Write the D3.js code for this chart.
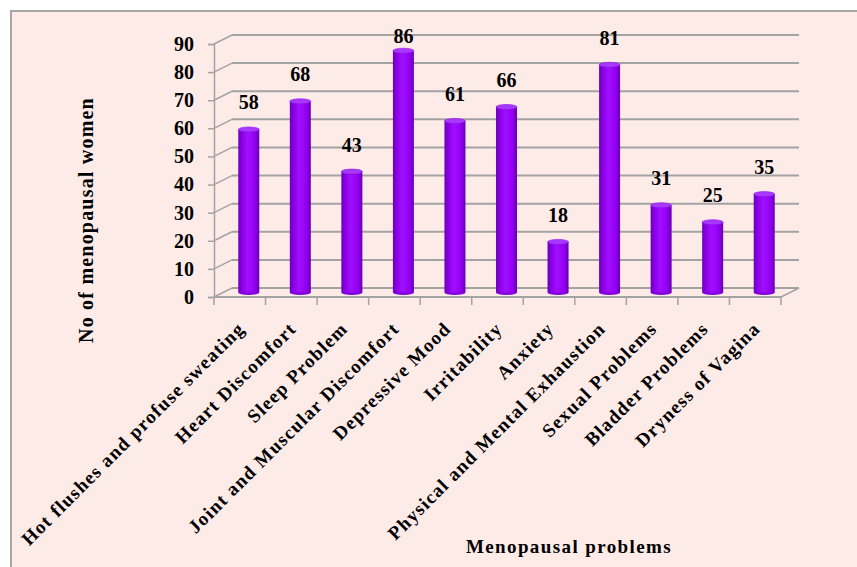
<!DOCTYPE html>
<html>
<head>
<meta charset="utf-8">
<script src="https://cdnjs.cloudflare.com/ajax/libs/d3/7.8.5/d3.min.js"></script>
<style>
  body { margin: 0; background: #ffffff; }
  text { font-family: "Liberation Serif", "Times New Roman", serif; font-weight: bold; }
</style>
</head>
<body>
<div id="chart"></div>
<script>
// Chart data
const categories = [
  "Hot flushes and profuse sweating", "Heart Discomfort", "Sleep Problem",
  "Joint and Muscular Discomfort", "Depressive Mood", "Irritability", "Anxiety",
  "Physical and Mental Exhaustion", "Sexual Problems", "Bladder Problems", "Dryness of Vagina"
];
const values = [58, 68, 43, 86, 61, 66, 18, 81, 31, 25, 35];
const yTicks = [0, 10, 20, 30, 40, 50, 60, 70, 80, 90];
const yTitle = "No of menopausal women";
const xTitle = "Menopausal problems";

const W = 857, H = 567;
// 3D depth offset of the back wall
const depthX = 18, depthY = -9;

const svg = d3.select("#chart").append("svg")
  .attr("width", W)
  .attr("height", H);

// Chart area background + frame
svg.append("rect")
  .attr("x", 11).attr("y", 11)
  .attr("width", W).attr("height", H)
  .attr("fill", "#fdebe8")
  .attr("stroke", "#a6a6a6")
  .attr("stroke-width", 2);

const x = d3.scaleBand().domain(categories).range([214, 781]).padding(0);
const y = d3.scaleLinear().domain([0, 90]).range([297, 44]);

// gradient for cylinders
const defs = svg.append("defs");
const grad = defs.append("linearGradient").attr("id", "cyl").attr("x1", "0%").attr("x2", "100%");
grad.append("stop").attr("offset", "0%").attr("stop-color", "#6c00b4");
grad.append("stop").attr("offset", "18%").attr("stop-color", "#8a00e6");
grad.append("stop").attr("offset", "45%").attr("stop-color", "#a010ff");
grad.append("stop").attr("offset", "75%").attr("stop-color", "#9600f8");
grad.append("stop").attr("offset", "100%").attr("stop-color", "#6a00b0");

const grid = svg.append("g");

// Back wall gridlines
grid.selectAll(".gl")
  .data(yTicks)
  .join("line")
  .attr("x1", 214 + depthX).attr("x2", 781 + depthX)
  .attr("y1", d => y(d) + depthY).attr("y2", d => y(d) + depthY)
  .attr("stroke", "#a3a3a3").attr("stroke-width", 2);

// Side wall diagonals
grid.selectAll(".sd")
  .data(yTicks)
  .join("line")
  .attr("x1", 214).attr("x2", 214 + depthX)
  .attr("y1", d => y(d)).attr("y2", d => y(d) + depthY)
  .attr("stroke", "#a3a3a3").attr("stroke-width", 1.5);

// Floor: front edge and right edge
grid.append("line")
  .attr("x1", 214).attr("x2", 781)
  .attr("y1", y(0)).attr("y2", y(0))
  .attr("stroke", "#a3a3a3").attr("stroke-width", 2);
grid.append("line")
  .attr("x1", 781).attr("x2", 781 + depthX)
  .attr("y1", y(0)).attr("y2", y(0) + depthY)
  .attr("stroke", "#a3a3a3").attr("stroke-width", 1.5);

// Y axis
const yAxis = svg.append("g")
  .attr("transform", "translate(214,0)")
  .call(d3.axisLeft(y).tickValues(yTicks).tickSize(6).tickPadding(14));
yAxis.select(".domain").attr("stroke", "#a3a3a3").attr("stroke-width", 1.5);
yAxis.selectAll(".tick line").attr("stroke", "#a3a3a3").attr("stroke-width", 1.5);
yAxis.selectAll(".tick text")
  .attr("fill", "#000")
  .style("font-family", '"Liberation Serif", serif')
  .style("font-weight", "bold")
  .style("font-size", "20px");

// X axis ticks (category boundaries)
const xAxis = svg.append("g")
  .attr("transform", `translate(0,${y(0)})`)
  .call(d3.axisBottom(x).tickSize(8).tickFormat(""));
xAxis.select(".domain").remove();
xAxis.selectAll(".tick line")
  .attr("transform", `translate(${x.bandwidth() / 2},0)`)
  .attr("stroke", "#a3a3a3").attr("stroke-width", 1.5);
xAxis.append("line")
  .attr("x1", 214).attr("x2", 214).attr("y1", 0).attr("y2", 8)
  .attr("stroke", "#a3a3a3").attr("stroke-width", 1.5);

// Bars as cylinders
const barW = 21, ry = 2.5;
const cx = d => x(d) + x.bandwidth() / 2 + depthX / 2;
const yb = v => y(v) + depthY / 2;

const bars = svg.append("g").selectAll("g")
  .data(categories.map((c, i) => ({ c, v: values[i] })))
  .join("g");

bars.append("ellipse")
  .attr("cx", d => cx(d.c)).attr("cy", yb(0))
  .attr("rx", barW / 2).attr("ry", ry)
  .attr("fill", "#8000d8");
bars.append("rect")
  .attr("x", d => cx(d.c) - barW / 2)
  .attr("y", d => yb(d.v))
  .attr("width", barW)
  .attr("height", d => yb(0) - yb(d.v))
  .attr("fill", "url(#cyl)");
bars.append("ellipse")
  .attr("cx", d => cx(d.c)).attr("cy", d => yb(d.v))
  .attr("rx", barW / 2).attr("ry", ry)
  .attr("fill", "#a838ff")
  .attr("stroke", "#8a10e0").attr("stroke-width", 0.6);

// Value labels
bars.append("text")
  .attr("x", d => cx(d.c))
  .attr("y", d => Math.max(yb(d.v) - 20, 43))
  .attr("text-anchor", "middle")
  .style("font-size", "20px")
  .attr("fill", "#000")
  .text(d => d.v);

// Category labels
svg.append("g").selectAll("text")
  .data(categories)
  .join("text")
  .attr("transform", d => `translate(${x(d) + x.bandwidth() / 2 + 6},${330}) rotate(-45)`)
  .attr("text-anchor", "end")
  .style("font-size", "19px")
  .style("letter-spacing", "1.2px")
  .attr("fill", "#000")
  .text(d => d);

// Axis titles
svg.append("text")
  .attr("transform", "translate(93,220) rotate(-90)")
  .attr("text-anchor", "middle")
  .style("font-size", "20px")
  .style("letter-spacing", "1.2px")
  .attr("fill", "#000")
  .text(yTitle);

svg.append("text")
  .attr("x", 569).attr("y", 553)
  .attr("text-anchor", "middle")
  .style("font-size", "19px")
  .style("letter-spacing", "1.4px")
  .attr("fill", "#000")
  .text(xTitle);
</script>
</body>
</html>
